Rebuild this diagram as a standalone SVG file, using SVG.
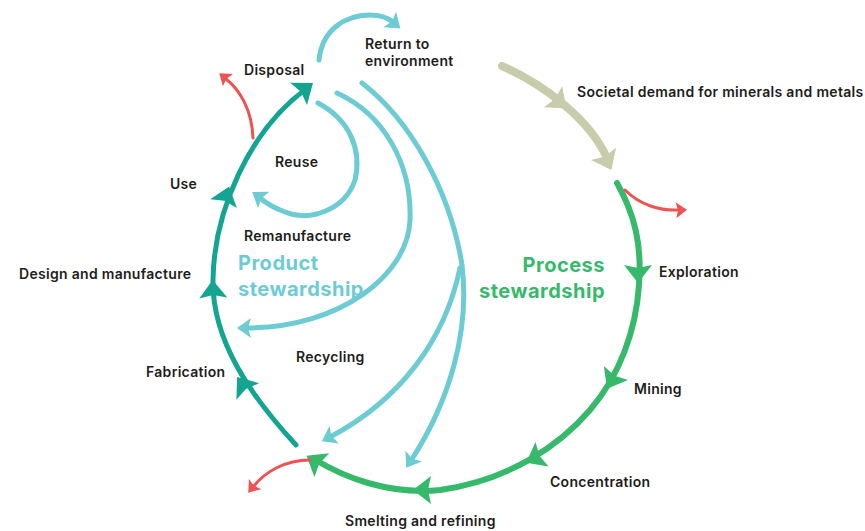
<svg xmlns="http://www.w3.org/2000/svg" xmlns:xlink="http://www.w3.org/1999/xlink" width="865" height="531" viewBox="0 0 865 531">
<style>
.lbl{font-family:Inter,"Open Sans","Liberation Sans",sans-serif;font-size:14px;font-weight:600;letter-spacing:0.3px;fill:#1d1d1b}
.big{font-family:Inter,"Open Sans","Liberation Sans",sans-serif;font-size:20px;font-weight:700;letter-spacing:0.5px}
.ln{fill:none;stroke-linecap:round}
.teal{stroke:#14a592;stroke-width:5}
.green{stroke:#36b96a;stroke-width:6}
.olive{stroke:#c9ccab;stroke-width:8}
.blue{stroke:#6ccbd3;stroke-width:5}
.red{stroke:#ef5252;stroke-width:3}
</style>
<defs>
<path id="tb" d="M10,0 L-8,-14 L-5,0 L-8,14 Z"/>
<path id="ts" d="M7,0 L-7,-10 L-4,0 L-7,10 Z"/>
<path id="tr" d="M6,0 L-5,-8 L-3,0 L-5,8 Z"/>
</defs>
<rect width="865" height="531" fill="#ffffff"/>
<g id="connectors">
  <path class="ln teal" d="M296,445 C250,395 212,340 213,280 C214,210 250,130 306,89"/>
  <g fill="#14a592">
    <use xlink:href="#tb" transform="translate(243,385) rotate(-126)"/>
    <use xlink:href="#tb" transform="translate(213,290) rotate(-92)"/>
    <use xlink:href="#tb" transform="translate(226,196) rotate(-72)"/>
    <use xlink:href="#tb" transform="translate(305,89) rotate(-37)"/>
  </g>
  <path class="ln green" d="M617,183 C635,215 642,245 639,285 C636,330 620,375 590,410 C560,445 510,480 440,490 C390,495 345,478 314,459"/>
  <g fill="#36b96a">
    <use xlink:href="#tb" transform="translate(638,273) rotate(90)"/>
    <use xlink:href="#tb" transform="translate(612,380) rotate(120)"/>
    <use xlink:href="#tb" transform="translate(535,458) rotate(152)"/>
    <use xlink:href="#tb" transform="translate(423,490) rotate(180)"/>
    <use xlink:href="#tb" transform="translate(315,461) rotate(-148)"/>
  </g>
  <path class="ln olive" d="M502,66 C545,85 590,120 607,158"/>
  <g fill="#c9ccab">
    <use xlink:href="#tb" transform="translate(559,102) rotate(41)"/>
    <use xlink:href="#tb" transform="translate(607,161) rotate(64)"/>
  </g>
  <path class="ln red" d="M253,138 C252,110 240,90 226,79"/>
  <path class="ln red" d="M625,190 C640,205 660,211 679,210"/>
  <path class="ln red" d="M310,460 C285,460 265,472 254,486"/>
  <g fill="#ef5252">
    <use xlink:href="#tr" transform="translate(224,77) rotate(-141)"/>
    <use xlink:href="#tr" transform="translate(681,210) rotate(-3)"/>
    <use xlink:href="#tr" transform="translate(252,488) rotate(129)"/>
  </g>
  <path class="ln blue" d="M319,60 C322,30 345,15 370,15 C381,15 388,18 393,22"/>
  <path class="ln blue" d="M318,103 C350,120 362,150 355,180 C345,210 310,222 285,212 C274,208 266,203 260,198"/>
  <path class="ln blue" d="M337,93 C385,115 412,165 410,220 C408,275 340,328 246,328"/>
  <path class="ln blue" d="M362,83 C410,120 450,190 462,265 C470,330 450,400 412,459"/>
  <path class="ln blue" d="M460,268 C445,340 400,400 330,437"/>
  <g fill="#6ccbd3">
    <use xlink:href="#ts" transform="translate(395,24) rotate(40)"/>
    <use xlink:href="#ts" transform="translate(258,196) rotate(-145)"/>
    <use xlink:href="#ts" transform="translate(244,328) rotate(180)"/>
    <use xlink:href="#ts" transform="translate(328,438) rotate(152)"/>
    <use xlink:href="#ts" transform="translate(410,462) rotate(123)"/>
  </g>
</g>
<g id="return-to-environment"><text class="lbl" x="365" y="49">Return to</text><text class="lbl" x="365" y="66">environment</text></g>
<g id="disposal"><text class="lbl" x="244" y="75">Disposal</text></g>
<g id="societal-demand"><text class="lbl" x="577" y="97">Societal demand for minerals and metals</text></g>
<g id="reuse"><text class="lbl" x="275" y="167">Reuse</text></g>
<g id="use"><text class="lbl" x="170" y="189">Use</text></g>
<g id="remanufacture"><text class="lbl" x="244" y="241">Remanufacture</text></g>
<g id="design"><text class="lbl" x="19" y="279">Design and manufacture</text></g>
<g id="product-stewardship"><text class="big" fill="#6ccbd3" x="238" y="270">Product</text><text class="big" fill="#6ccbd3" x="238" y="296">stewardship</text></g>
<g id="process-stewardship"><text class="big" fill="#36b96a" x="605" y="272" text-anchor="end">Process</text><text class="big" fill="#36b96a" x="605" y="298" text-anchor="end">stewardship</text></g>
<g id="exploration"><text class="lbl" x="659" y="277">Exploration</text></g>
<g id="recycling"><text class="lbl" x="296" y="362">Recycling</text></g>
<g id="fabrication"><text class="lbl" x="146" y="377">Fabrication</text></g>
<g id="mining"><text class="lbl" x="634" y="394">Mining</text></g>
<g id="concentration"><text class="lbl" x="550" y="487">Concentration</text></g>
<g id="smelting"><text class="lbl" x="345" y="526">Smelting and refining</text></g>
</svg>
